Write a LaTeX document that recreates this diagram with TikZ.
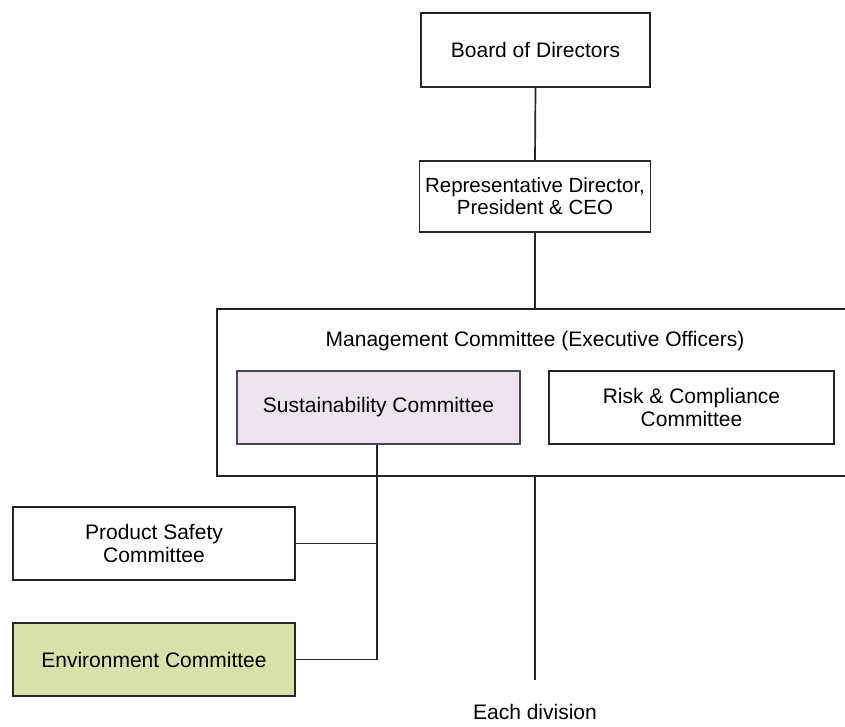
\documentclass[tikz,border=0pt]{standalone}
\usepackage{fontspec}
\setmainfont{Liberation Sans}
\begin{document}
\begin{tikzpicture}[x=1pt,y=-1pt,
  txt/.style={font=\fontsize{21}{23}\selectfont},
  box/.style={draw=black!85,line width=1.7pt,inner sep=0pt,align=center,txt},
  conn/.style={draw=black!85,line width=1.7pt}]
\useasboundingbox (0,0) rectangle (845,726);
\definecolor{lav}{HTML}{EEE3F1}
\definecolor{olive}{HTML}{D8E1AA}
\definecolor{lavborder}{HTML}{4A4558}
% nodes
\node[box,minimum width=229pt,minimum height=74pt] (board) at (535.5,50) {Board of Directors};
\node[box,font=\fontsize{20.5}{22}\selectfont,minimum width=231pt,minimum height=71pt] (rep) at (535,196.5) {Representative Director,\\President \& CEO};
\node[box,minimum width=629pt,minimum height=167pt,anchor=north west] (mgmt) at (216,308) {};
\node[txt] (mgmtlabel) at (535,341) {Management Committee (Executive Officers)};
\node[box,fill=lav,draw=lavborder,minimum width=283pt,minimum height=73pt] (sust) at (378.5,407.5) {Sustainability Committee};
\node[box,minimum width=285pt,minimum height=73pt] (risk) at (691.5,407.5) {Risk \& Compliance\\Committee};
\node[box,minimum width=282pt,minimum height=73pt] (prod) at (154,543.5) {Product Safety\\Committee};
\node[box,fill=olive,minimum width=282pt,minimum height=73pt] (env) at (154,659.5) {Environment Committee};
\node[txt] (div) at (535,712) {Each division};
% connectors
\coordinate (divtop) at (535,680);
\coordinate (jp) at (377,543.5);
\coordinate (je) at (377,659.5);
\draw[conn] (board.south) -- (rep.north);
\draw[conn] (rep.south) -- (rep.south |- mgmt.north);
\draw[conn] (rep.south |- mgmt.south) -- (divtop);
\draw[conn] (sust.south -| jp) -- (je) -- (env.east);
\draw[conn] (prod.east) -- (jp);
\end{tikzpicture}
\end{document}
